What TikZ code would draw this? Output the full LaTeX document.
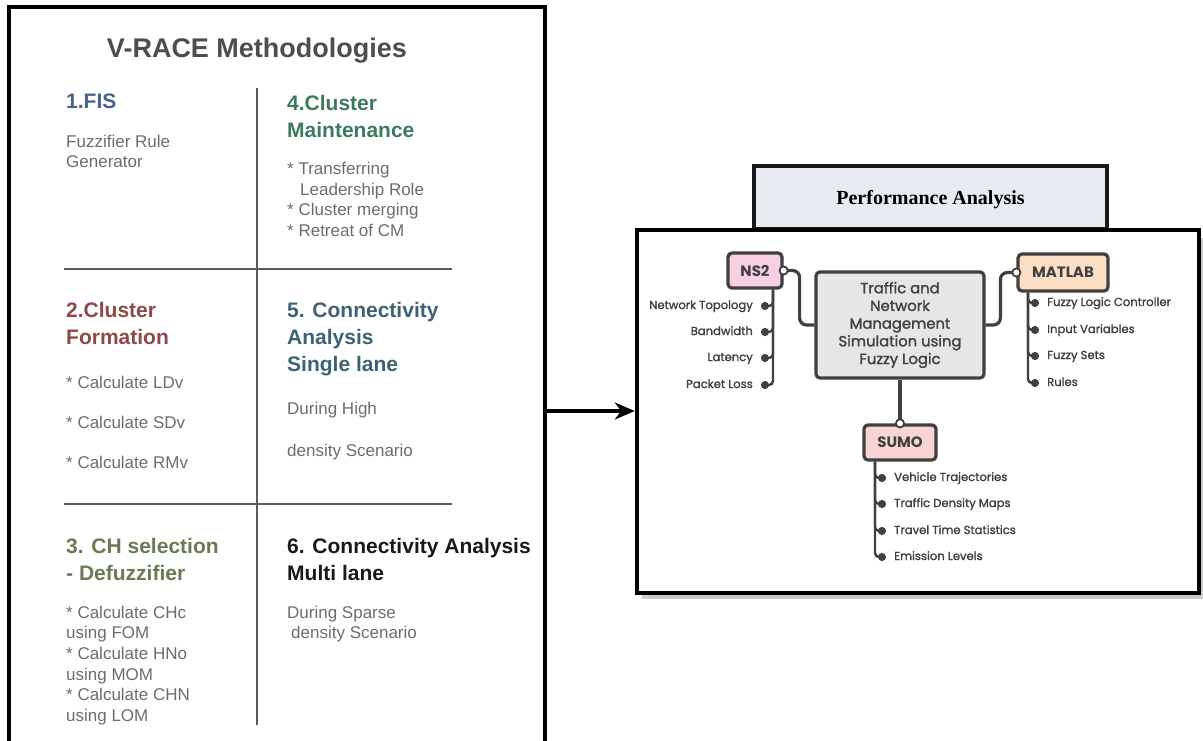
\documentclass[tikz,border=0pt]{standalone}
\usepackage{fontspec}
\setmainfont{Liberation Sans}
\newfontfamily\perffont{Liberation Serif}
\newfontfamily\sketchfont{Poppins}[FakeBold=1.5]
\newfontfamily\toolfont{Poppins}
\usetikzlibrary{positioning}
\usetikzlibrary{arrows.meta}
\definecolor{titlegray}{RGB}{77,77,77}
\definecolor{bodygray}{RGB}{108,108,108}
\definecolor{linegray}{RGB}{90,90,90}
\definecolor{fisblue}{RGB}{74,96,140}
\definecolor{cmgreen}{RGB}{62,122,94}
\definecolor{cfred}{RGB}{142,72,72}
\definecolor{cateal}{RGB}{61,98,117}
\definecolor{chsolive}{RGB}{106,122,82}
\definecolor{sketchgray}{RGB}{64,64,64}
\definecolor{ns2pink}{RGB}{248,208,228}
\definecolor{matlabpeach}{RGB}{252,222,196}
\definecolor{sumopink}{RGB}{248,212,212}
\definecolor{trafficgray}{RGB}{230,230,230}
\definecolor{perffill}{RGB}{232,236,242}

\begin{document}
\begin{tikzpicture}[x=1pt,y=-1pt,
    heading/.style={anchor=north west,inner sep=0pt,align=left,font=\fontsize{21}{27}\selectfont\bfseries},
    body/.style={anchor=north west,inner sep=0pt,align=left,text=bodygray,font=\fontsize{17}{20.7}\selectfont},
    divider/.style={draw=linegray,line width=2.6pt},
    tool/.style={draw=sketchgray,line width=3.2pt,rounded corners=4pt,minimum height=35pt,inner sep=2pt,text=sketchgray,font=\toolfont\fontsize{15}{17}\selectfont\bfseries},
    link/.style={draw=sketchgray,line width=3.2pt,rounded corners=7pt,shorten <=-5pt,arrows={Circle[length=10pt,fill=white,line width=1.8pt]-}},
    twig/.style={draw=sketchgray,line width=2.4pt,rounded corners=4pt,arrows={-Circle[length=8pt]}},
    leaf/.style={inner xsep=8pt,inner ysep=0pt,text height=7pt,text depth=1pt,text=sketchgray,font=\sketchfont\fontsize{11.6}{13}\selectfont},
  ]
  \useasboundingbox (0,0) rectangle (1203,740);

  % Methodologies panel
  \draw[line width=4.5pt] (9,745) -- (9,7) -- (545,7) -- (545,745);
  \coordinate (vrace) at (545,411);
  \node[anchor=base,inner sep=0pt,text=titlegray,font=\fontsize{27}{32}\selectfont\bfseries] (title) at (257,57) {V-RACE Methodologies};

  % Dividers
  \draw[divider] (257,88) -- (257,725);
  \draw[divider] (64,269) -- (452,269);
  \draw[divider] (64,504) -- (452,504);

  % Steps, left column
  \node[heading,text=fisblue] (fis) at (66,94) {1.FIS};
  \node[body,font=\fontsize{17}{20}\selectfont] (fisbody) at (66,135) {Fuzzifier Rule\\Generator};
  \node[heading,text=cfred] (cf) at (66,302) {2.Cluster\\Formation};
  \node[body,font=\fontsize{17}{40}\selectfont] (cfbody) at (66,376) {* Calculate LDv\\* Calculate SDv\\* Calculate RMv};
  \node[heading,text=chsolive] (chs) at (66,537.8) {3. CH selection\\- Defuzzifier};
  \node[body] (chsbody) at (66,605.6) {* Calculate CHc\\using FOM\\* Calculate HNo\\using MOM\\* Calculate CHN\\using LOM};

  % Steps, right column
  \node[heading,text=cmgreen] (cm) at (287,95) {4.Cluster\\Maintenance};
  \node[body,font=\fontsize{17}{20.5}\selectfont] (cmbody) at (287,162) {* Transferring\\\hspace*{13pt}Leadership Role\\* Cluster merging\\* Retreat of CM};
  \node[heading,text=cateal] (ca) at (287,302) {5. Connectivity\\Analysis\\Single lane};
  \node[body,font=\fontsize{17}{42}\selectfont] (cabody) at (287,401.6) {During High\\density Scenario};
  \node[heading,text=black!90] (mla) at (287,537.8) {6. Connectivity Analysis\\Multi lane};
  \node[body,font=\fontsize{17}{20}\selectfont] (mlabody) at (287,605.6) {During Sparse\\\hspace*{4pt}density Scenario};

  % Performance analysis
  \node[draw=black!90,line width=4.5pt,fill=perffill,minimum width=353pt,minimum height=63pt,text depth=0pt,font=\perffont\fontsize{20}{24}\selectfont\bfseries] (perf) at (930.5,197.5) {Performance Analysis};
  \fill[black!20] (642,238) rectangle (1203,599);
  \node[draw,line width=4.5pt,fill=white,minimum width=562pt,minimum height=363pt] (sim) at (918,411.5) {};
  \draw[line width=3.5pt,-{Stealth[length=20pt,width=17pt]}] (vrace) -- (vrace -| sim.west);

  % Simulation tools
  \node[tool,fill=trafficgray,minimum width=168pt,minimum height=106pt,align=center,font=\sketchfont\fontsize{14.8}{17.7}\selectfont] (traffic) at (900,325) {Traffic and\\Network\\Management\\Simulation using\\Fuzzy Logic};
  \node[tool,fill=ns2pink,minimum width=54pt] (ns2) at (755,270.5) {NS2};
  \node[tool,fill=matlabpeach,minimum width=90pt,minimum height=37pt] (matlab) at (1063,272.5) {MATLAB};
  \node[tool,fill=sumopink,minimum width=72pt] (sumo) at (900,442.5) {SUMO};

  \draw[link] (ns2.east) -- ++(16,0) |- (traffic.west);
  \draw[link] (matlab.west) -- ++(-16,0) |- (traffic.east);
  \draw[link] (sumo.north) -- (traffic.south);

  % NS2 outputs
  \node[leaf,anchor=east] (topology) at (761,306) {Network Topology};
  \node[leaf,anchor=east] (bandwidth) at (761,332) {Bandwidth};
  \node[leaf,anchor=east] (latency) at (761,358) {Latency};
  \node[leaf,anchor=east] (loss) at (761,385) {Packet Loss};
  \foreach \leafname in {topology,bandwidth,latency,loss}
    \draw[twig] ([xshift=18pt]ns2.south) |- (\leafname.east);

  % MATLAB outputs
  \node[leaf,anchor=west] (flc) at (1039,303) {Fuzzy Logic Controller};
  \node[leaf,anchor=west] (inputs) at (1039,330) {Input Variables};
  \node[leaf,anchor=west] (sets) at (1039,356) {Fuzzy Sets};
  \node[leaf,anchor=west] (rules) at (1039,383) {Rules};
  \foreach \leafname in {flc,inputs,sets,rules}
    \draw[twig] ([xshift=-35pt]matlab.south) |- (\leafname.west);

  % SUMO outputs
  \node[leaf,anchor=west] (trajectories) at (886,478) {Vehicle Trajectories};
  \node[leaf,anchor=west] (density) at (886,504) {Traffic Density Maps};
  \node[leaf,anchor=west] (travel) at (886,531) {Travel Time Statistics};
  \node[leaf,anchor=west] (emission) at (886,557) {Emission Levels};
  \foreach \leafname in {trajectories,density,travel,emission}
    \draw[twig] ([xshift=-25pt]sumo.south) |- (\leafname.west);
\end{tikzpicture}
\end{document}
